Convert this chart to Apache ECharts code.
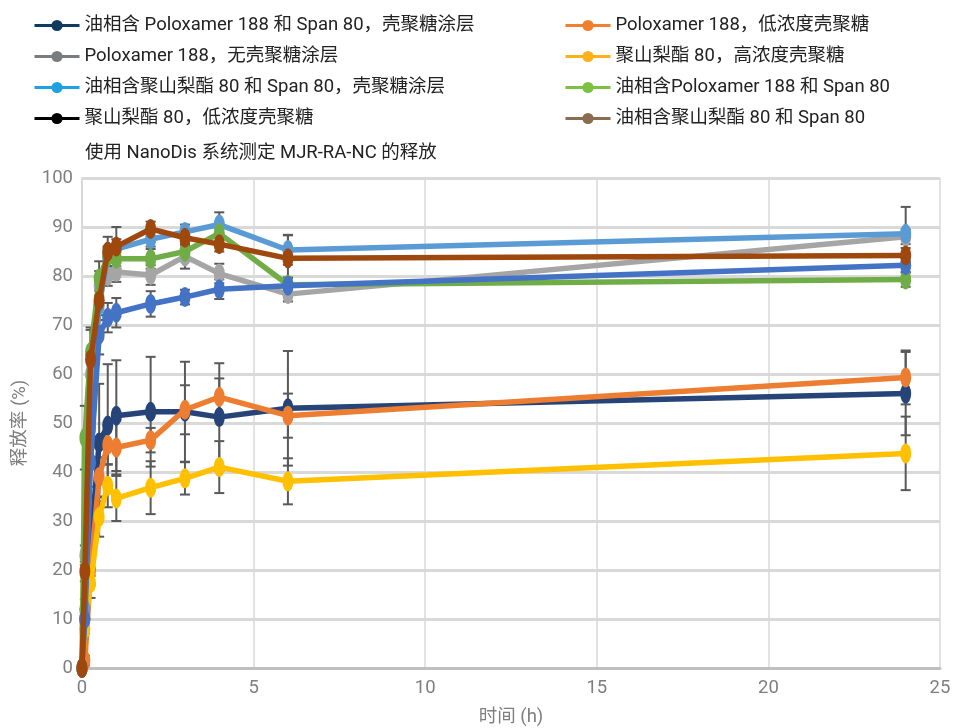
<!DOCTYPE html>
<html>
<head>
<meta charset="utf-8">
<script src="https://cdn.jsdelivr.net/npm/echarts@6/dist/echarts.min.js"></script>
<style>
  html, body { margin: 0; padding: 0; background: #fff; }
  #chart { width: 954px; height: 728px; }
</style>
</head>
<body>
<div id="chart"></div>
<script>
// Sampling times (h)
const times = [0, 0.083, 0.25, 0.5, 0.75, 1, 2, 3, 4, 6, 24];

// Series names (legend order)
const names = [
  '油相含 Poloxamer 188 和 Span 80，壳聚糖涂层',
  'Poloxamer 188，低浓度壳聚糖',
  'Poloxamer 188，无壳聚糖涂层',
  '聚山梨酯 80，高浓度壳聚糖',
  '油相含聚山梨酯 80 和 Span 80，壳聚糖涂层',
  '油相含Poloxamer 188 和 Span 80',
  '聚山梨酯 80，低浓度壳聚糖',
  '油相含聚山梨酯 80 和 Span 80'
];

// Release (%) and standard deviation per formulation
const p188SpanCoated     = [0, 10, 24.8, 46, 49.5, 51.5, 52.3, 52.3, 51.2, 53, 56];
const p188SpanCoatedErr  = [0, 2, 6, 12, 12.5, 11.3, 11.2, 10.2, 11, 11.7, 8.5];
const p188LowChit        = [0, 1.5, 20, 39, 45.5, 45, 46.5, 52.7, 55.3, 51.5, 59.3];
const p188LowChitErr     = [0, 1, 3, 4, 4, 5.5, 2.5, 5, 3.8, 4.5, 5.5];
const p188Uncoated       = [0, 23, 60, 78, 80, 80.8, 80.2, 84, 80.5, 76.3, 88];
const p188UncoatedErr    = [0, 2, 4, 3, 2, 2, 2, 2.5, 2, 1.5, 1.5];
const ps80HighChit       = [0, 8, 17.3, 30.8, 37.2, 34.6, 36.8, 38.7, 41, 38.1, 43.8];
const ps80HighChitErr    = [0, 1, 3, 4, 4.4, 4.6, 5.4, 3.3, 5.3, 4.7, 7.5];
const ps80SpanCoated     = [0, 12, 49, 74, 84, 85.5, 87.5, 89, 90.5, 85.3, 88.6];
const ps80SpanCoatedErr  = [0, 2, 4, 3, 2, 2, 1.5, 1.5, 2.5, 3, 5.5];
const p188Span           = [0, 47, 64.5, 79.5, 84, 83.5, 83.5, 85, 88.7, 78.2, 79.3];
const p188SpanErr        = [0, 6.5, 5, 3.5, 2, 2, 2, 2, 2, 1.5, 1.5];
const ps80LowChit        = [0, 10, 42, 68, 71.5, 72.5, 74.3, 75.7, 77.3, 78, 82.2];
const ps80LowChitErr     = [0, 2, 5, 4, 3, 3, 2.6, 1.5, 2, 1.5, 1.5];
const ps80Span           = [0, 19.7, 63, 75, 85, 86, 89.6, 87.8, 86.5, 83.6, 84.2];
const ps80SpanErr        = [0, 2, 6, 4, 3, 4, 1.5, 1.5, 1.5, 4.8, 1.5];

// Axis ticks
const xTicks = [0, 5, 10, 15, 20, 25];
const yTicks = [0, 10, 20, 30, 40, 50, 60, 70, 80, 90, 100];

const values = [p188SpanCoated, p188LowChit, p188Uncoated, ps80HighChit,
                ps80SpanCoated, p188Span, ps80LowChit, ps80Span];
const errors = [p188SpanCoatedErr, p188LowChitErr, p188UncoatedErr, ps80HighChitErr,
                ps80SpanCoatedErr, p188SpanErr, ps80LowChitErr, ps80SpanErr];

// Plot colours and legend swatch colours
const lineColors   = ['#264478', '#ED7D31', '#A5A5A5', '#FFC000', '#5B9BD5', '#70AD47', '#4472C4', '#9E480E'];
const legendColors = ['#0E3B5E', '#F0802F', '#7A7D80', '#FBB21A', '#1EA1E0', '#7DC142', '#000000', '#8A6C50'];

const FONT = 'Roboto, "Noto Sans CJK SC", sans-serif';

const lineSeries = names.map((n, i) => ({
  name: n,
  type: 'line',
  data: times.map((t, k) => [t, values[i][k]]),
  symbol: 'circle',
  symbolSize: [11, 20],
  lineStyle: { width: 5.5, color: lineColors[i] },
  itemStyle: { color: lineColors[i] },
  z: 3 + i,
  animation: false
}));

const errData = [];
values.forEach((arr, i) => arr.forEach((v, k) => {
  if (errors[i][k] > 0) errData.push([times[k], v, errors[i][k]]);
}));

// Error bars: vertical whisker with caps
const errSeries = {
  type: 'custom',
  name: 'err',
  data: errData,
  encode: { x: 0, y: 1 },
  z: 2,
  silent: true,
  animation: false,
  renderItem: function (params, api) {
    const t = api.value(0), v = api.value(1), e = api.value(2);
    const top = api.coord([t, v + e]);
    const bot = api.coord([t, v - e]);
    const hw = 5;
    const st = { stroke: '#595959', lineWidth: 2 };
    return {
      type: 'group',
      children: [
        { type: 'line', shape: { x1: top[0], y1: top[1], x2: bot[0], y2: bot[1] }, style: st },
        { type: 'line', shape: { x1: top[0] - hw, y1: top[1], x2: top[0] + hw, y2: top[1] }, style: st },
        { type: 'line', shape: { x1: bot[0] - hw, y1: bot[1], x2: bot[0] + hw, y2: bot[1] }, style: st }
      ]
    };
  }
};

const legendItem = i => ({
  name: names[i],
  itemStyle: { color: legendColors[i] },
  lineStyle: { color: legendColors[i], width: 3 }
});

const legendCommon = {
  orient: 'vertical',
  top: 10,
  itemWidth: 45,
  itemHeight: 14,
  itemGap: 10,
  textStyle: { fontFamily: FONT, fontSize: 18.5, color: '#222', lineHeight: 21 },
  selectedMode: false
};

const chart = echarts.init(document.getElementById('chart'), null, { renderer: 'canvas' });
chart.setOption({
  backgroundColor: '#fff',
  animation: false,
  title: {
    text: '使用 NanoDis 系统测定 MJR-RA-NC 的释放',
    left: 80, top: 139,
    textStyle: { fontFamily: FONT, fontSize: 18.5, fontWeight: 'normal', color: '#222' }
  },
  legend: [
    Object.assign({ left: 28, data: [0, 2, 4, 6].map(legendItem) }, legendCommon),
    Object.assign({ left: 559, data: [1, 3, 5, 7].map(legendItem) }, legendCommon)
  ],
  grid: { left: 82, right: 14, top: 178, bottom: 60, outerBoundsMode: 'none' },
  xAxis: {
    type: 'value',
    min: xTicks[0], max: xTicks[xTicks.length - 1], interval: 5,
    name: '时间 (h)', nameLocation: 'middle', nameGap: 40,
    nameTextStyle: { fontFamily: FONT, fontSize: 18.5, color: '#7F7F7F' },
    axisLine: { show: true, lineStyle: { color: '#BFBFBF', width: 3 } },
    axisTick: { show: false },
    axisLabel: { fontFamily: FONT, fontSize: 18.5, color: '#7F7F7F', margin: 11 },
    splitLine: { show: true, lineStyle: { color: '#D9D9D9', width: 1.5 } }
  },
  yAxis: {
    type: 'value',
    min: yTicks[0], max: yTicks[yTicks.length - 1], interval: 10,
    name: '释放率 (%)', nameLocation: 'middle', nameGap: 52,
    nameTextStyle: { fontFamily: FONT, fontSize: 18.5, color: '#7F7F7F' },
    axisLine: { show: true, lineStyle: { color: '#D9D9D9', width: 2 } },
    axisTick: { show: false },
    axisLabel: { fontFamily: FONT, fontSize: 18.5, color: '#7F7F7F', margin: 9 },
    splitLine: { show: true, lineStyle: { color: '#D9D9D9', width: 3 } }
  },
  series: [errSeries].concat(lineSeries)
});
</script>
</body>
</html>
